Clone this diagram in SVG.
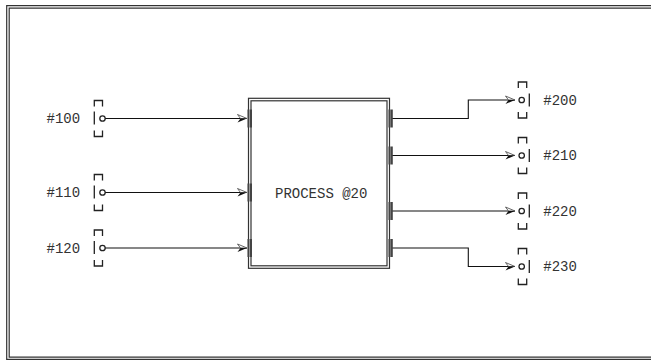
<svg xmlns="http://www.w3.org/2000/svg" width="651" height="360" viewBox="0 0 651 360">
<style>
.dbl{fill:none;stroke:#333;stroke-width:1.2}
.conn{fill:none;stroke:#111;stroke-width:1.1}
.port{fill:none;stroke:#222;stroke-width:1.3}
.pin{stroke:#444;stroke-width:2}
.lbl{font-family:"Liberation Mono","DejaVu Sans Mono",monospace;font-size:14px;fill:#333}
</style>
<defs>
<marker id="arr" viewBox="0 -5 11 10" markerWidth="11" markerHeight="10" refX="10" refY="0" orient="auto" markerUnits="userSpaceOnUse">
<path d="M0.5,-4 L10,0 L3.5,0 Z" fill="#fff" stroke="#555" stroke-width="0.9"/>
<path d="M3.5,0 L10,0 L0.5,4 Z" fill="#111"/>
</marker>
</defs>
<rect width="651" height="360" fill="#fff"/>
<g id="frame">
<path class="dbl" d="M651,5.7 H6.7 V359.3 H651"/>
<path class="dbl" d="M651,8.2 H9.2 V357.2 H651"/>
</g>
<g id="connectors">
<path class="conn" d="M105,118.5 H247" marker-end="url(#arr)"/>
<path class="conn" d="M105,192.5 H247" marker-end="url(#arr)"/>
<path class="conn" d="M105,248 H247" marker-end="url(#arr)"/>
<path class="conn" d="M392,118.5 H468.3 V100 H515" marker-end="url(#arr)"/>
<path class="conn" d="M392,155.5 H515" marker-end="url(#arr)"/>
<path class="conn" d="M392,211 H515" marker-end="url(#arr)"/>
<path class="conn" d="M392,248 H468.3 V266.5 H515" marker-end="url(#arr)"/>
</g>
<g id="process20">
<rect class="dbl" x="248.5" y="98.3" width="141" height="170"/>
<rect class="dbl" x="251" y="100.8" width="136" height="165"/>
<path class="pin" d="M248.5,109.5 v18 M251,109.5 v18 M248.5,183.5 v18 M251,183.5 v18 M248.5,239 v18 M251,239 v18"/>
<path class="pin" d="M389.5,109.5 v18 M391.8,109.5 v18 M389.5,146.5 v18 M391.8,146.5 v18 M389.5,202 v18 M391.8,202 v18 M389.5,239 v18 M391.8,239 v18"/>
<text class="lbl" x="275" y="197.5">PROCESS @20</text>
</g>
<g id="in100">
<path class="port" d="M94.3,106.5 V100.5 H102.5 V106.5 M94.3,111.5 V124.5 M94.3,130.5 V136.5 H102.5 V130.5"/>
<circle class="port" cx="102.5" cy="118.5" r="2.7"/>
<text class="lbl" x="46.5" y="123">#100</text>
</g>
<g id="in110">
<path class="port" d="M94.3,180.5 V174.5 H102.5 V180.5 M94.3,185.5 V198.5 M94.3,204.5 V210.5 H102.5 V204.5"/>
<circle class="port" cx="102.5" cy="192.5" r="2.7"/>
<text class="lbl" x="46.5" y="197">#110</text>
</g>
<g id="in120">
<path class="port" d="M94.3,236 V230 H102.5 V236 M94.3,241 V254 M94.3,260 V266 H102.5 V260"/>
<circle class="port" cx="102.5" cy="248" r="2.7"/>
<text class="lbl" x="46.5" y="252.5">#120</text>
</g>
<g id="out200">
<path class="port" d="M518.3,88 V82 H526.7 V88 M529.3,93.5 V106.5 M518.3,112 V118 H526.7 V112"/>
<circle class="port" cx="521.7" cy="100" r="2.7"/>
<text class="lbl" x="543.3" y="104.5">#200</text>
</g>
<g id="out210">
<path class="port" d="M518.3,143.5 V137.5 H526.7 V143.5 M529.3,149 V162 M518.3,167.5 V173.5 H526.7 V167.5"/>
<circle class="port" cx="521.7" cy="155.5" r="2.7"/>
<text class="lbl" x="543.3" y="160">#210</text>
</g>
<g id="out220">
<path class="port" d="M518.3,199 V193 H526.7 V199 M529.3,204.5 V217.5 M518.3,223 V229 H526.7 V223"/>
<circle class="port" cx="521.7" cy="211" r="2.7"/>
<text class="lbl" x="543.3" y="215.5">#220</text>
</g>
<g id="out230">
<path class="port" d="M518.3,254.5 V248.5 H526.7 V254.5 M529.3,260 V273 M518.3,278.5 V284.5 H526.7 V278.5"/>
<circle class="port" cx="521.7" cy="266.5" r="2.7"/>
<text class="lbl" x="543.3" y="271">#230</text>
</g>
</svg>
